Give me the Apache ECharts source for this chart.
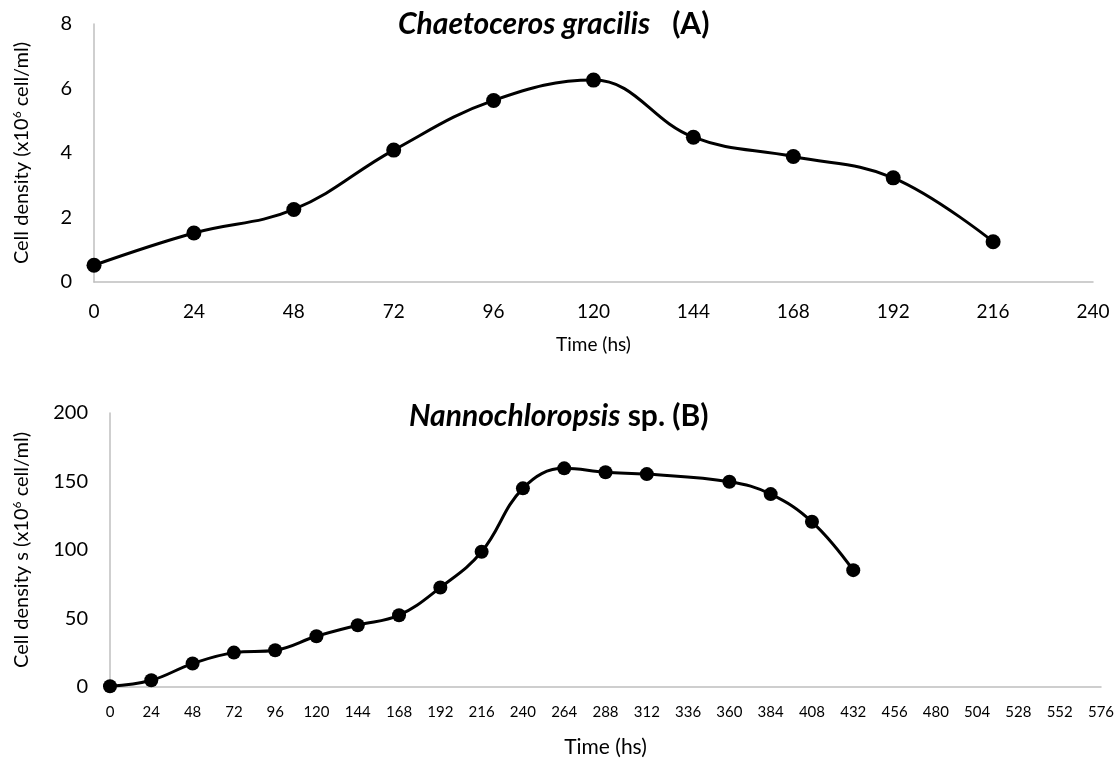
<!DOCTYPE html>
<html>
<head>
<meta charset="utf-8">
<script src="https://cdn.jsdelivr.net/npm/echarts@6/dist/echarts.min.js"></script>
<style>
  html, body { margin: 0; padding: 0; background: #fff; }
  #chart { width: 1120px; height: 767px; }
</style>
</head>
<body>
<div id="chart"></div>
<script>
// (A) Chaetoceros gracilis
const timeA = [0, 24, 48, 72, 96, 120, 144, 168, 192, 216]
const densityA = [0.52, 1.52, 2.25, 4.09, 5.63, 6.26, 4.49, 3.89, 3.23, 1.25]

// (B) Nannochloropsis sp. (no point at 336 h)
const timeB = [0, 24, 48, 72, 96, 120, 144, 168, 192, 216, 240, 264, 288, 312, 360, 384, 408, 432]
const densityB = [0.5, 4.9, 17.1, 25.1, 26.8, 37, 45.1, 52.4, 72.6, 98.7, 145, 159.6, 156.7, 155.4, 149.8, 140.8, 120.6, 85.3]

const font = 'Lato, "Open Sans", sans-serif'
const axisGrey = '#bfbfbf'

const pairs = (xs, ys) => xs.map((x, i) => [x, ys[i]])

const yName = {
  fontFamily: font,
  fontSize: 20,
  color: '#000',
  rich: {
    sup: { fontFamily: font, fontSize: 12, color: '#000', verticalAlign: 'top', padding: [0, 0, 9, 0] }
  }
}

const titleRich = {
  i: { fontFamily: font, fontSize: 30, fontWeight: 'bold', fontStyle: 'italic', color: '#000' },
  b: { fontFamily: font, fontSize: 30, fontWeight: 'bold', color: '#000' }
}

const option = {
  animation: false,
  backgroundColor: '#fff',
  title: [
    {
      text: '{i|Chaetoceros gracilis}{b|   (A)}',
      left: 393,
      top: 4,
      textStyle: { rich: titleRich }
    },
    {
      text: '{i|Nannochloropsis}{b| sp. (B)}',
      left: 404,
      top: 396,
      textStyle: { rich: titleRich }
    }
  ],
  grid: [
    { left: 94, right: 27, top: 24, height: 258 },
    { left: 110, right: 19, top: 413, height: 274 }
  ],
  xAxis: [
    {
      gridIndex: 0,
      type: 'value',
      min: 0,
      max: 240,
      interval: 24,
      name: 'Time (hs)',
      nameLocation: 'middle',
      nameGap: 53,
      nameTextStyle: { fontFamily: font, fontSize: 19, color: '#000' },
      axisLine: { show: true, lineStyle: { color: axisGrey, width: 1.5 } },
      axisTick: { show: false },
      splitLine: { show: false },
      axisLabel: { fontFamily: font, fontSize: 19, color: '#000', margin: 20 }
    },
    {
      gridIndex: 1,
      type: 'value',
      min: 0,
      max: 576,
      interval: 24,
      name: 'Time (hs)',
      nameLocation: 'middle',
      nameGap: 50,
      nameTextStyle: { fontFamily: font, fontSize: 21, color: '#000' },
      axisLine: { show: true, lineStyle: { color: axisGrey, width: 1.5 } },
      axisTick: { show: false },
      splitLine: { show: false },
      axisLabel: { fontFamily: font, fontSize: 15, color: '#000', margin: 18 }
    }
  ],
  yAxis: [
    {
      gridIndex: 0,
      type: 'value',
      min: 0,
      max: 8,
      interval: 2,
      name: 'Cell density (x10{sup|6} cell/ml)',
      nameLocation: 'middle',
      nameGap: 62,
      nameTextStyle: yName,
      axisLine: { show: true, lineStyle: { color: axisGrey, width: 1.5 } },
      axisTick: { show: false },
      splitLine: { show: false },
      axisLabel: { fontFamily: font, fontSize: 20, color: '#000', margin: 22 }
    },
    {
      gridIndex: 1,
      type: 'value',
      min: 0,
      max: 200,
      interval: 50,
      name: 'Cell density s (x10{sup|6} cell/ml)',
      nameLocation: 'middle',
      nameGap: 78,
      nameTextStyle: yName,
      axisLine: { show: true, lineStyle: { color: axisGrey, width: 1.5 } },
      axisTick: { show: false },
      splitLine: { show: false },
      axisLabel: { fontFamily: font, fontSize: 20, color: '#000', margin: 22 }
    }
  ],
  series: [
    {
      type: 'line',
      xAxisIndex: 0,
      yAxisIndex: 0,
      smooth: 0.4,
      symbol: 'circle',
      symbolSize: 15,
      lineStyle: { color: '#000', width: 3 },
      itemStyle: { color: '#000' },
      data: pairs(timeA, densityA)
    },
    {
      type: 'line',
      xAxisIndex: 1,
      yAxisIndex: 1,
      smooth: 0.4,
      symbol: 'circle',
      symbolSize: 14,
      lineStyle: { color: '#000', width: 3 },
      itemStyle: { color: '#000' },
      data: pairs(timeB, densityB)
    }
  ]
}

const chart = echarts.init(document.getElementById('chart'))
chart.setOption(option)
</script>
</body>
</html>
